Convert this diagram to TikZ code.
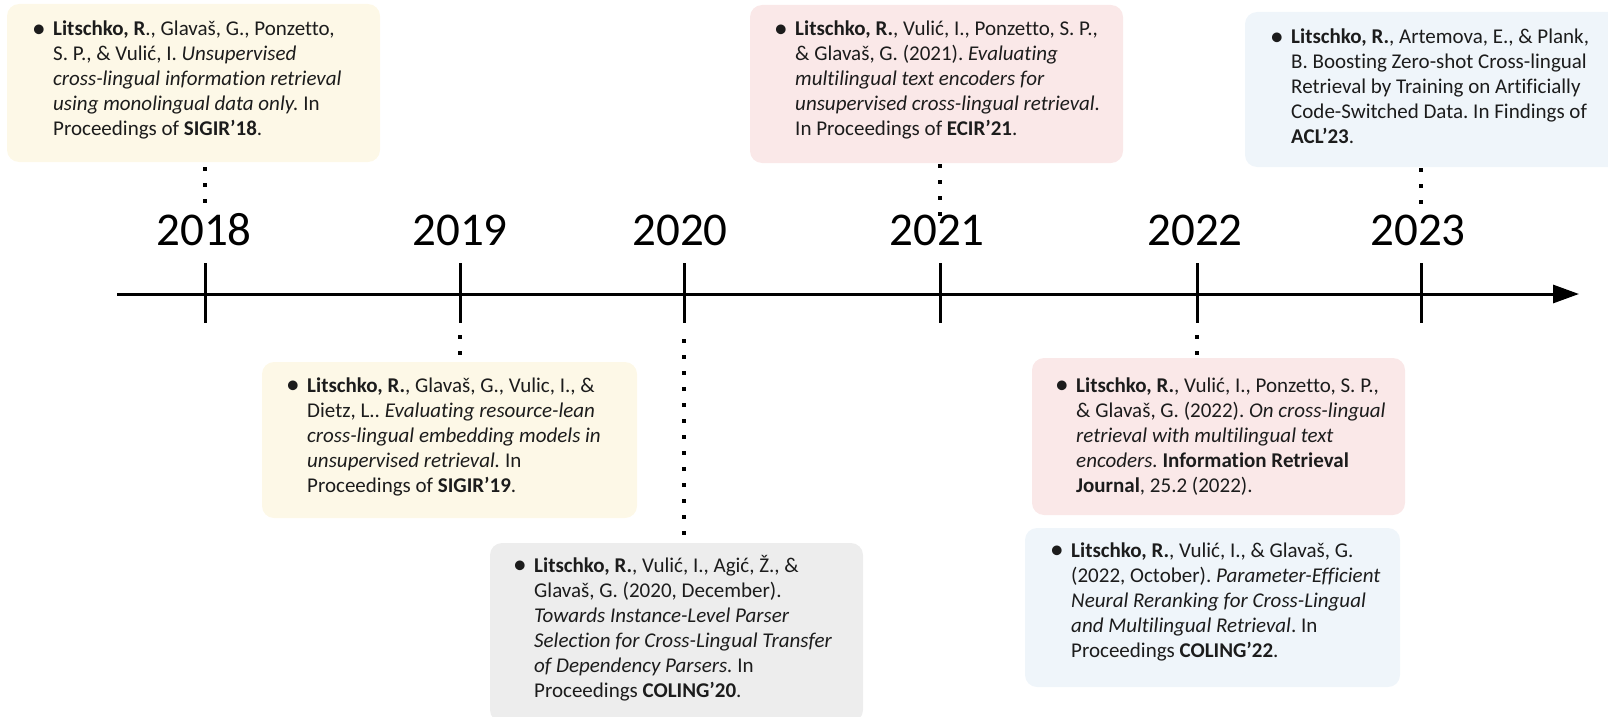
\documentclass[tikz,border=0pt]{standalone}
\usepackage{fontspec}
\setmainfont{Carlito}[Ligatures={NoCommon}]
\usetikzlibrary{arrows.meta,fit}
\frenchspacing

\definecolor{cardyellow}{RGB}{253,248,231}
\definecolor{cardpink}{RGB}{250,232,232}
\definecolor{cardblue}{RGB}{239,245,250}
\definecolor{cardgray}{RGB}{237,237,237}
\definecolor{ink}{RGB}{28,28,28}

% one bulleted reference: bullet column + the hand-broken lines
\newcommand\refbullet{\raisebox{-0.08em}{\scalebox{1.3}{\textbullet}}}
\newcommand\refentry[1]{\begin{tabular}[t]{@{}l@{}l@{}}\makebox[21pt][l]{\refbullet}&#1\end{tabular}}

\begin{document}
\begin{tikzpicture}[x=1pt,y=-1pt,
  card/.style={rounded corners=12pt, inner sep=0pt, draw=none},
  entry/.style={anchor=base west, inner sep=0pt, text=ink,
                font=\fontsize{21}{25}\selectfont},
  year/.style={anchor=base, inner sep=0pt, font=\fontsize{47}{52}\selectfont},
  axisline/.style={line width=3pt},
  tickline/.style={line width=3pt},
  dotline/.style={line width=4pt, dash pattern=on 4pt off 12pt}]

\useasboundingbox (0,0) rectangle (1608,717);
\clip (0,0) rectangle (1608,717);

% ---- time axis ----
\coordinate (axs) at (117,294);
\coordinate (axe) at (1579,294);
\draw[axisline, -{Triangle[length=26pt,width=18pt]}] (axs) -- (axe);

% ticks
\foreach \yr/\x in {18/205, 19/460, 20/684, 21/940, 22/1197, 23/1421} {
  \coordinate (k\yr t) at (\x,263);
  \coordinate (k\yr b) at (\x,323);
  \draw[tickline] (k\yr t) -- (k\yr b);
}

% year labels
\node[year] (y18) at (204,245) {2018};
\node[year] (y19) at (460,245) {2019};
\node[year] (y20) at (680,245) {2020};
\node[year] (y21) at (937,245) {2021};
\node[year] (y22) at (1195,245) {2022};
\node[year] (y23) at (1418,245) {2023};

% ---- publication cards ----
\node[card, fill=cardyellow, fit={(7,4) (380,162)}] (b18) {};
\node[entry] (t18) at (32,36) {\refentry{%
  \textbf{Litschko, R}., Glavaš, G., Ponzetto,\\
  & S. P., \& Vulić, I. \textit{Unsupervised}\\
  & \textit{cross-lingual information retrieval}\\
  & \textit{using monolingual data only.} In\\
  & Proceedings of \textbf{SIGIR’18}.}};

\node[card, fill=cardyellow, fit={(262,362) (637,518)}] (b19) {};
\node[entry] (t19) at (286,392) {\refentry{%
  \textbf{Litschko, R.}, Glavaš, G., Vulic, I., \&\\
  & Dietz, L.. \textit{Evaluating resource-lean}\\
  & \textit{cross-lingual embedding models in}\\
  & \textit{unsupervised retrieval.} In\\
  & Proceedings of \textbf{SIGIR’19}.}};

\node[card, fill=cardgray, fit={(490,543) (863,722)}] (b20) {};
\node[entry] (t20) at (513,572) {\refentry{%
  \textbf{Litschko, R.}, Vulić, I., Agić, Ž., \&\\
  & Glavaš, G. (2020, December).\\
  & \textit{Towards Instance-Level Parser}\\
  & \textit{Selection for Cross-Lingual Transfer}\\
  & \textit{of Dependency Parsers.} In\\
  & Proceedings \textbf{COLING’20}.}};

\node[card, fill=cardpink, fit={(750,5) (1123,163)}] (b21) {};
\node[entry] (t21) at (774,36) {\refentry{%
  \textbf{Litschko, R.}, Vulić, I., Ponzetto, S. P.,\\
  & \& Glavaš, G. (2021). \textit{Evaluating}\\
  & \textit{multilingual text encoders for}\\
  & \textit{unsupervised cross-lingual retrieval.}\\
  & In Proceedings of \textbf{ECIR’21}.}};

\node[card, fill=cardpink, fit={(1032,358) (1405,515)}] (b22a) {};
\node[entry] (t22a) at (1055,392) {\refentry{%
  \textbf{Litschko, R.}, Vulić, I., Ponzetto, S. P.,\\
  & \& Glavaš, G. (2022). \textit{On cross-lingual}\\
  & \textit{retrieval with multilingual text}\\
  & \textit{encoders.} \textbf{Information Retrieval}\\
  & \textbf{Journal}, 25.2 (2022).}};

\node[card, fill=cardblue, fit={(1025,528) (1400,687)}] (b22b) {};
\node[entry] (t22b) at (1050,557) {\refentry{%
  \textbf{Litschko, R.}, Vulić, I., \& Glavaš, G.\\
  & (2022, October). \textit{Parameter-Efficient}\\
  & \textit{Neural Reranking for Cross-Lingual}\\
  & \textit{and Multilingual Retrieval}. In\\
  & Proceedings \textbf{COLING’22}.}};

\node[card, fill=cardblue, fit={(1245,12) (1625,167)}] (b23) {};
\node[entry] (t23) at (1270,44) {\refentry{%
  \textbf{Litschko, R.}, Artemova, E., \& Plank,\\
  & B. Boosting Zero-shot Cross-lingual\\
  & Retrieval by Training on Artificially\\
  & Code-Switched Data. In Findings of\\
  & \textbf{ACL’23}.}};

% ---- dotted leaders between cards and ticks ----
\coordinate (d18) at (205,204);
\coordinate (d21) at (940,216);
\coordinate (d23) at (1421,204);
\coordinate (d19) at (460,335);
\coordinate (d20) at (684,339);
\coordinate (d22) at (1197,335);

\draw[dotline] ([yshift=-5pt]b18.south -| d18) -- (d18);
\draw[dotline] ([yshift=-1pt]b21.south -| d21) -- (d21);
\draw[dotline] ([yshift=-1pt]b23.south -| d23) -- (d23);
\draw[dotline] (d19) -- ([yshift=6pt]b19.north -| d19);
\draw[dotline] (d20) -- ([yshift=8pt]b20.north -| d20);
\draw[dotline] (d22) -- ([yshift=2pt]b22a.north -| d22);
\end{tikzpicture}
\end{document}
